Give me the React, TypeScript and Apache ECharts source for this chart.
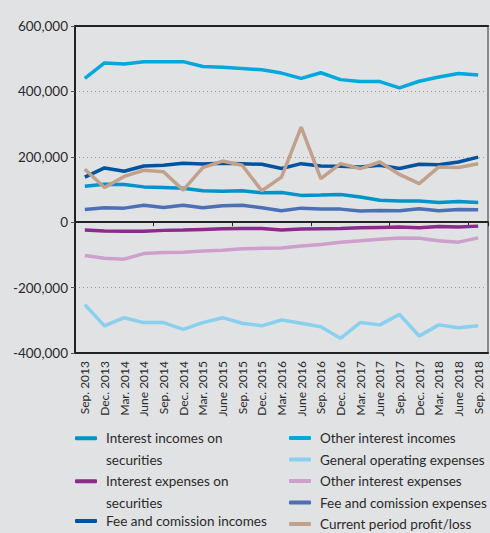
import React, { useEffect, useRef } from "react";
import * as echarts from "echarts";

const categories = [
  "Sep. 2013", "Dec. 2013", "Mar. 2014", "June 2014", "Sep. 2014", "Dec. 2014",
  "Mar. 2015", "June 2015", "Sep. 2015", "Dec. 2015", "Mar. 2016", "June 2016",
  "Sep. 2016", "Dec. 2016", "Mar. 2017", "June 2017", "Sep. 2017", "Dec. 2017",
  "Mar. 2018", "June 2018", "Sep. 2018",
];

const interestIncomesSecurities = [110000, 116000, 115000, 108000, 106000, 104000, 96000, 95000, 96000, 90000, 91000, 82000, 83000, 85000, 77000, 67000, 65000, 65000, 60000, 63000, 60000];
const otherInterestIncomes = [440000, 487000, 484000, 491000, 491000, 491000, 476000, 474000, 470000, 466000, 456000, 440000, 457000, 436000, 430000, 430000, 411000, 431000, 444000, 455000, 450000];
const interestExpensesSecurities = [-24000, -27000, -28000, -28000, -25000, -24000, -22000, -20000, -19000, -19000, -24000, -21000, -20000, -19000, -17000, -16000, -15000, -17000, -13000, -15000, -12000];
const generalOperatingExpenses = [-252000, -317000, -292000, -307000, -307000, -328000, -307000, -292000, -309000, -317000, -299000, -309000, -320000, -355000, -307000, -314000, -282000, -348000, -314000, -323000, -317000];
const otherInterestExpenses = [-102000, -110000, -113000, -96000, -93000, -92000, -88000, -86000, -81000, -80000, -79000, -73000, -68000, -61000, -57000, -52000, -48000, -49000, -57000, -61000, -48000];
const feeCommissionIncomes = [138000, 166000, 156000, 172000, 174000, 180000, 178000, 180000, 179000, 177000, 164000, 179000, 172000, 171000, 169000, 174000, 164000, 177000, 176000, 184000, 199000];
const feeCommissionExpenses = [39000, 44000, 43000, 52000, 45000, 52000, 44000, 50000, 52000, 44000, 35000, 43000, 40000, 40000, 34000, 36000, 35000, 41000, 35000, 39000, 38000];
const currentProfitLoss = [162000, 106000, 140000, 159000, 154000, 98000, 167000, 187000, 174000, 96000, 138000, 291000, 133000, 179000, 164000, 184000, 146000, 118000, 169000, 167000, 179000];

const seriesDefs = [
  { name: "Interest incomes on securities", data: interestIncomesSecurities, color: "#0094c9" },
  { name: "Other interest incomes", data: otherInterestIncomes, color: "#00a9dd" },
  { name: "Interest expenses on securities", data: interestExpensesSecurities, color: "#8c2a8d" },
  { name: "General operating expenses", data: generalOperatingExpenses, color: "#88d0ee" },
  { name: "Other interest expenses", data: otherInterestExpenses, color: "#cc9fcd" },
  { name: "Fee and comission incomes", data: feeCommissionIncomes, color: "#00539e" },
  { name: "Fee and comission expenses", data: feeCommissionExpenses, color: "#4c70b6" },
  { name: "Current period profit/loss", data: currentProfitLoss, color: "#c1a08c" },
];

const FONT = "Lato";
const TEXT = "#2a2a2a";

export default function App() {
  const ref = useRef<HTMLDivElement>(null);
  useEffect(() => {
    if (!ref.current) return;
    const chart = echarts.init(ref.current, undefined, { renderer: "svg" });
    const legendText = { fontFamily: FONT, fontSize: 13.5, color: TEXT, lineHeight: 16, padding: [0, 0, 0, 4] };
    const wrapText = { fontFamily: FONT, fontSize: 13.5, color: TEXT, lineHeight: 21.5, padding: [0, 0, 0, 4] };
    const wrapNames: Record<string, string> = {
      "Interest incomes on securities": "\nInterest incomes on\nsecurities",
      "Interest expenses on securities": "\nInterest expenses on\nsecurities",
    };
    const legendBase = {
      orient: "vertical",
      icon: "roundRect",
      itemWidth: 22,
      itemHeight: 4,
      selectedMode: false,
      padding: 0,
    };
    chart.setOption({
      animation: false,
      backgroundColor: "#e1e2e4",
      textStyle: { fontFamily: FONT },
      grid: { left: 75, right: 2, top: 26, bottom: 180, containLabel: false },
      legend: [
        { ...legendBase, left: 75, top: 406, data: ["Interest incomes on securities"], formatter: (n: string) => wrapNames[n] || n, textStyle: wrapText },
        { ...legendBase, left: 75, top: 449, data: ["Interest expenses on securities"], formatter: (n: string) => wrapNames[n] || n, textStyle: wrapText },
        { ...legendBase, left: 75, top: 513, data: ["Fee and comission incomes"], textStyle: legendText },
        {
          ...legendBase, left: 289, top: 430, itemGap: 5.5,
          data: ["Other interest incomes", "General operating expenses", "Other interest expenses", "Fee and comission expenses", "Current period profit/loss"],
          textStyle: legendText,
        },
      ],
      xAxis: [
        {
          type: "category",
          data: categories,
          boundaryGap: true,
          position: "bottom",
          axisLine: { onZero: true, lineStyle: { color: "#222", width: 2 } },
          axisTick: { show: true, length: 4, lineStyle: { color: "#222", width: 1 } },
          axisLabel: { show: false },
          splitLine: { show: false },
        },
        {
          type: "category",
          data: categories,
          boundaryGap: true,
          position: "bottom",
          axisLine: { onZero: false, lineStyle: { color: "#222", width: 2 } },
          axisTick: { show: false },
          axisLabel: { show: true, rotate: 90, margin: 8, fontFamily: FONT, fontSize: 12, color: TEXT, interval: 0 },
          splitLine: { show: false },
        },
        {
          type: "category",
          data: categories,
          position: "top",
          axisLine: { onZero: false, lineStyle: { color: "#222", width: 2 } },
          axisTick: { show: false },
          axisLabel: { show: false },
        },
      ],
      yAxis: [
        {
          type: "value",
          min: -400000,
          max: 600000,
          interval: 200000,
          position: "left",
          axisLine: { show: true, onZero: false, lineStyle: { color: "#222", width: 2 } },
          axisTick: { show: true, length: 4, lineStyle: { color: "#555" } },
          axisLabel: {
            fontFamily: FONT, fontSize: 13.5, color: TEXT, margin: 7,
            formatter: (v: number) => (v < 0 ? "-" : "") + Math.abs(v).toLocaleString("en-US"),
          },
          splitLine: { show: true, lineStyle: { color: "#999", type: [1, 3], width: 1 } },
        },
        {
          type: "value",
          min: -400000,
          max: 600000,
          interval: 200000,
          position: "right",
          axisLine: { show: true, onZero: false, lineStyle: { color: "#8a8a8a", width: 2 } },
          axisTick: { show: false },
          axisLabel: { show: false },
          splitLine: { show: false },
        },
      ],
      series: seriesDefs.map((s) => ({
        name: s.name,
        type: "line",
        data: s.data,
        xAxisIndex: 0,
        yAxisIndex: 0,
        symbol: "none",
        showSymbol: false,
        color: s.color,
        lineStyle: { color: s.color, width: 3.5 },
        z: 3,
      })),
    });
    return () => chart.dispose();
  }, []);
  return <div ref={ref} style={{ position: "fixed", left: 0, top: 0, width: 490, height: 533 }} />;
}
